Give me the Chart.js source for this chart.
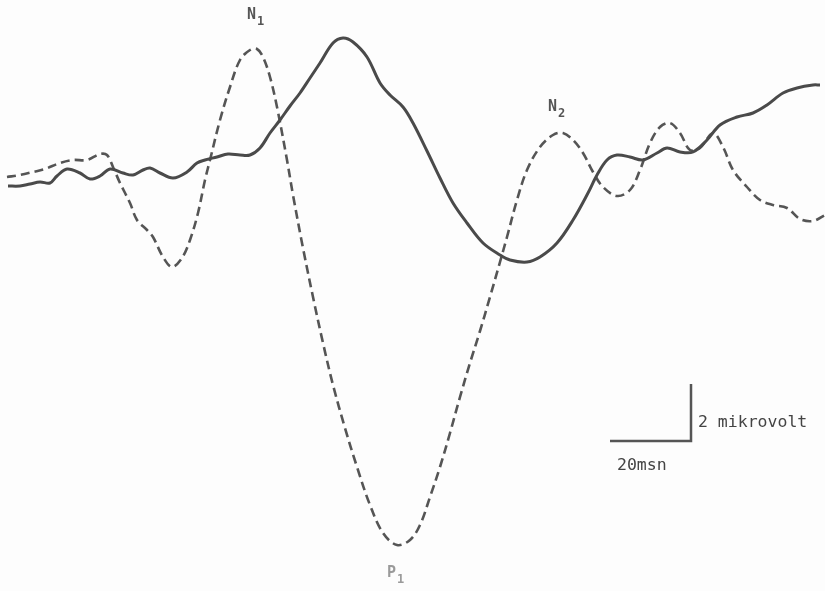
<!DOCTYPE html>
<html>
<head>
<meta charset="utf-8">
<script src="https://cdn.jsdelivr.net/npm/chart.js@4/dist/chart.umd.min.js"></script>
<style>
  html,body{margin:0;padding:0;background:#fdfdfd;}
  #wrap{width:825px;height:591px;}
</style>
</head>
<body>
<div id="wrap"><canvas id="c" width="825" height="591"></canvas></div>
<script>
// Values: [time unit, amplitude unit] (amplitude axis drawn downward-positive)
const solidTrace = [[8,186],[20,186],[30,184],[40,182],[50,183],[57,176],[67,169],[80,173],[90,179],[100,176],[110,169],[123,173],[133,175],[143,170],[150,168],[160,173],[173,178],[187,172],[197,163],[205,160],[217,157],[228,154],[240,155],[250,155],[260,148],[270,133],[280,120],[290,106],[300,93],[310,78],[320,63],[333,43],[343,38],[353,42],[367,57],[380,83],[390,95],[403,107],[413,123],[427,151],[440,178],[453,203],[467,223],[483,243],[500,255],[510,260],[527,262],[540,257],[557,243],[573,220],[588,193],[597,175],[607,160],[617,155],[630,157],[643,160],[657,153],[667,148],[680,152],[693,152],[707,140],[720,125],[737,117],[753,113],[767,105],[783,93],[797,88],[813,85],[820,85]];
const dashedTrace = [[7,177],[20,175],[33,172],[45,169],[60,163],[73,160],[87,160],[100,154],[107,155],[113,167],[120,183],[130,203],[137,220],[147,230],[153,237],[163,257],[172,267],[182,258],[190,240],[198,213],[205,180],[210,160],[220,120],[230,87],[240,60],[250,50],[257,49],[263,57],[270,77],[277,107],[287,160],[293,195],[303,248],[313,297],[323,343],[333,385],[345,428],[357,467],[370,505],[383,533],[397,545],[410,540],[420,525],[430,497],[440,467],[450,433],[460,397],[470,363],[480,331],[490,297],[500,262],[507,237],[517,200],[527,170],[540,147],[553,135],[563,133],[573,140],[583,153],[593,172],[603,187],[617,196],[630,190],[640,170],[650,143],[660,127],[670,123],[680,133],[690,150],[700,148],[713,133],[723,147],[733,170],[747,187],[760,200],[773,205],[787,208],[800,219],[813,221],[825,215]];
const scaleBar = [[610,441],[691,441],[691,384]];
const peakLabels = [
  {main:'N', sub:'1', at:[247,19], color:'#555'},
  {main:'N', sub:'2', at:[548,111], color:'#555'},
  {main:'P', sub:'1', at:[387,577], color:'#9a9a9a'}
];
const scaleLabels = [
  {text:'2 mikrovolt', at:[698,427]},
  {text:'20msn', at:[617,470]}
];
const xRange = [0, 825];
const yRange = [0, 591];

const toPts = a => a.map(p => ({x:p[0], y:p[1]}));

const labelPlugin = {
  id:'labels',
  afterDatasetsDraw(chart){
    const ctx = chart.ctx, xs = chart.scales.x, ys = chart.scales.y;
    ctx.save();
    ctx.textBaseline = 'alphabetic';
    peakLabels.forEach(l=>{
      const px = xs.getPixelForValue(l.at[0]), py = ys.getPixelForValue(l.at[1]);
      ctx.fillStyle = l.color;
      ctx.font = 'bold 15px "DejaVu Sans Mono", monospace';
      ctx.fillText(l.main, px, py);
      const w = ctx.measureText(l.main).width;
      ctx.font = 'bold 12px "DejaVu Sans Mono", monospace';
      ctx.fillText(l.sub, px + w + 1, py + 6);
    });
    ctx.fillStyle = '#444';
    ctx.font = '16.5px "DejaVu Sans Mono", monospace';
    scaleLabels.forEach(l=>{
      ctx.fillText(l.text, xs.getPixelForValue(l.at[0]), ys.getPixelForValue(l.at[1]));
    });
    ctx.restore();
  }
};

new Chart(document.getElementById('c'), {
  type:'line',
  data:{
    datasets:[
      {label:'solid', data:toPts(solidTrace), borderColor:'#4a4a4a', borderWidth:3, pointRadius:0, tension:0.35, fill:false},
      {label:'dashed', data:toPts(dashedTrace), borderColor:'#555', borderWidth:2.6, borderDash:[9,5], pointRadius:0, tension:0.35, fill:false},
      {label:'scale', data:toPts(scaleBar), borderColor:'#555', borderWidth:2.5, pointRadius:0, tension:0, fill:false}
    ]
  },
  options:{
    responsive:false,
    animation:false,
    layout:{padding:0},
    plugins:{legend:{display:false}, tooltip:{enabled:false}},
    scales:{
      x:{type:'linear', min:xRange[0], max:xRange[1], display:false},
      y:{type:'linear', min:yRange[0], max:yRange[1], reverse:true, display:false}
    }
  },
  plugins:[labelPlugin]
});
</script>
</body>
</html>
